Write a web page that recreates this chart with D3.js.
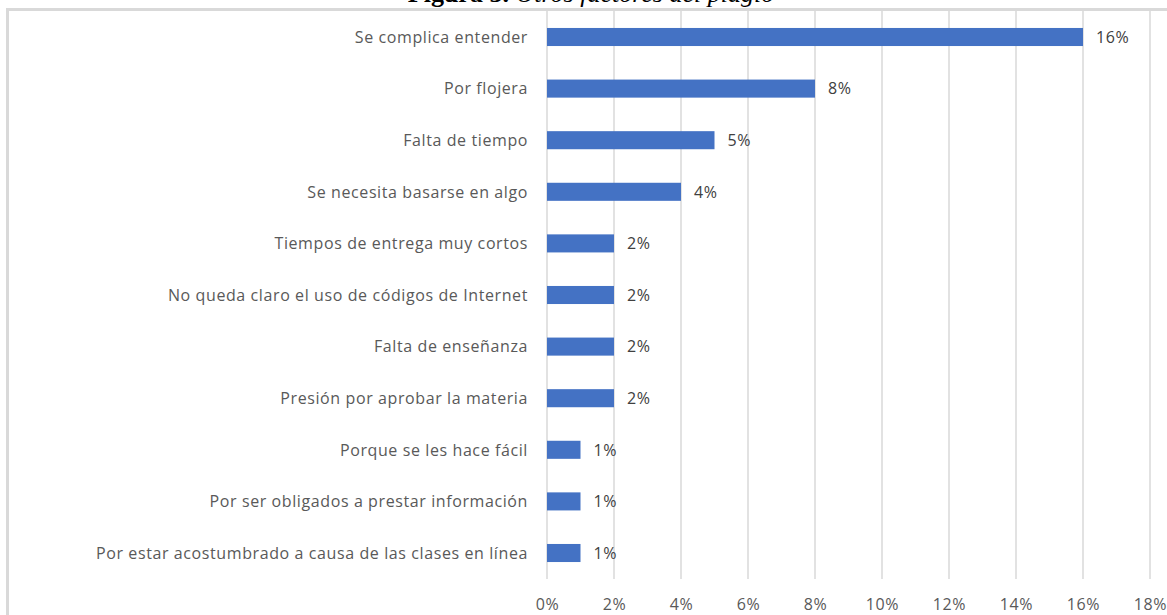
<!DOCTYPE html>
<html><head><meta charset="utf-8">
<script src="https://cdn.jsdelivr.net/npm/d3@7"></script>
<style>
html,body{margin:0;padding:0;background:#fff;}
svg{display:block;}
</style></head>
<body>
<svg id="chart" width="1167" height="615"></svg>
<script>
const categories = [
  "Se complica entender",
  "Por flojera",
  "Falta de tiempo",
  "Se necesita basarse en algo",
  "Tiempos de entrega muy cortos",
  "No queda claro el uso de códigos de Internet",
  "Falta de enseñanza",
  "Presión por aprobar la materia",
  "Porque se les hace fácil",
  "Por ser obligados a prestar información",
  "Por estar acostumbrado a causa de las clases en línea"
];
const values = [0.16, 0.08, 0.05, 0.04, 0.02, 0.02, 0.02, 0.02, 0.01, 0.01, 0.01];
const ticks = [0, 0.02, 0.04, 0.06, 0.08, 0.10, 0.12, 0.14, 0.16, 0.18];
const titleBold = "Figura 3.";
const titleItalic = " Otros factores del plagio";

const svg = d3.select("#chart");
const font = "'Open Sans', 'Noto Sans', sans-serif";

// title (partially clipped at top, as in the reference)
const t = svg.append("text").attr("x", 591).attr("y", 2)
  .attr("text-anchor", "middle")
  .style("font-family", "'Liberation Serif', 'Times New Roman', serif")
  .style("font-size", "26px").attr("fill", "#000");
t.append("tspan").style("font-weight", "bold").text(titleBold);
t.append("tspan").style("font-style", "italic").text(titleItalic);

// frame
svg.append("rect").attr("x", 7.5).attr("y", 9.5).attr("width", 1200).attr("height", 700)
  .attr("fill", "none").attr("stroke", "#d9d9d9").attr("stroke-width", 3);

const x = d3.scaleLinear().domain([0, 0.18]).range([547, 1150]);
const y = d3.scaleBand().domain(categories).range([11.2, 578.8]).paddingInner(0.65).paddingOuter(0.325);

// gridlines
svg.append("g").selectAll("line").data(ticks).join("line")
  .attr("x1", d => x(d)).attr("x2", d => x(d))
  .attr("y1", 11).attr("y2", 579)
  .attr("stroke", "#d9d9d9").attr("stroke-width", 1.5);

// bars
svg.append("g").selectAll("rect").data(values).join("rect")
  .attr("x", x(0)).attr("y", (d, i) => y(categories[i]))
  .attr("width", d => x(d) - x(0)).attr("height", y.bandwidth())
  .attr("fill", "#4472c4");

// value labels
svg.append("g").selectAll("text").data(values).join("text")
  .attr("x", d => x(d) + 13).attr("y", (d, i) => y(categories[i]) + y.bandwidth() / 2)
  .attr("dy", "0.36em")
  .style("font-family", font).style("font-size", "16px").style("letter-spacing", "0.6px")
  .attr("fill", "#404040")
  .text(d => d3.format(".0%")(d));

// category labels
svg.append("g").selectAll("text").data(categories).join("text")
  .attr("x", 528).attr("y", d => y(d) + y.bandwidth() / 2)
  .attr("dy", "0.36em").attr("text-anchor", "end")
  .style("font-family", font).style("font-size", "16px").style("letter-spacing", "0.6px")
  .attr("fill", "#595959")
  .text(d => d);

// x axis tick labels
const xAxis = d3.axisBottom(x).tickValues(ticks).tickFormat(d3.format(".0%")).tickSize(0).tickPadding(0);
const gx = svg.append("g").attr("transform", "translate(0,599)").call(xAxis);
gx.select(".domain").remove();
gx.selectAll("text").style("font-family", font).style("font-size", "16px")
  .style("letter-spacing", "0.6px").attr("fill", "#595959");
</script>
</body></html>
